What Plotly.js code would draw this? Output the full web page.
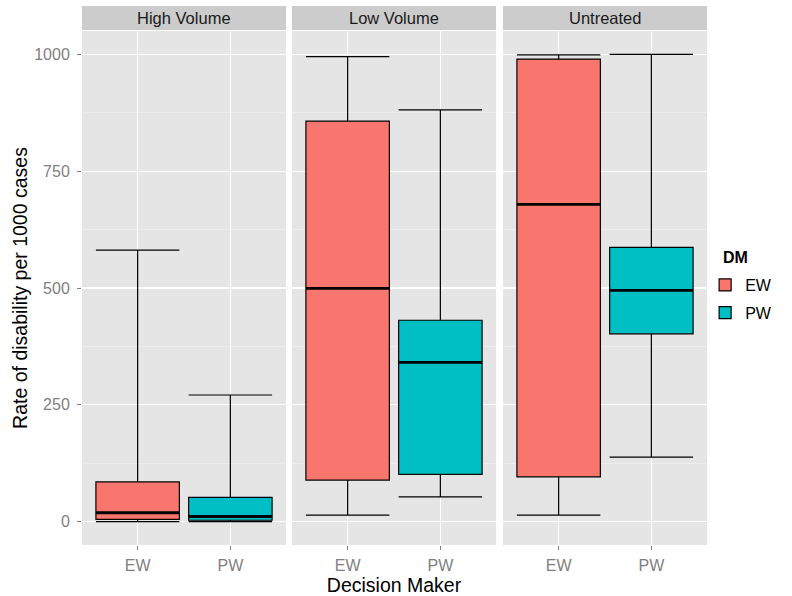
<!DOCTYPE html>
<html>
<head>
<meta charset="utf-8">
<script src="https://cdn.plot.ly/plotly-3.0.1.min.js"></script>
<style>
  html, body { margin: 0; padding: 0; background: #ffffff; }
  #chart { width: 792px; height: 596px; }
</style>
</head>
<body>
<div id="chart"></div>
<script>
// Facet panels and decision makers
const panels = ['High Volume', 'Low Volume', 'Untreated'];
const makers = ['EW', 'PW'];

// Box statistics per panel (rate per 1000 cases), EW decision maker
const ewLower  = [0, 14, 14];
const ewQ1     = [5, 89, 96];
const ewMedian = [19, 499, 679];
const ewQ3     = [85, 857, 990];
const ewUpper  = [581, 995, 999];

// Box statistics per panel, PW decision maker
const pwLower  = [0, 53, 138];
const pwQ1     = [3, 101, 402];
const pwMedian = [11, 341, 495];
const pwQ3     = [52, 431, 587];
const pwUpper  = [271, 881, 1000];

// Y axis ticks
const yTicks = [0, 250, 500, 750, 1000];
const yMinor = [125, 375, 625, 875];

const fills = { EW: '#F8766D', PW: '#00BFC4' };
const BOX_W = 0.9;
const FONT = 'Liberation Sans, Arial, Helvetica, sans-serif';
const PLOT_H = 514;

const stats = {
  EW: { lo: ewLower, q1: ewQ1, med: ewMedian, q3: ewQ3, hi: ewUpper },
  PW: { lo: pwLower, q1: pwQ1, med: pwMedian, q3: pwQ3, hi: pwUpper }
};

const axisIds = ['x', 'x2', 'x3'];
const domains = [[0, 0.3264], [0.336, 0.6624], [0.6736, 1]];

const traces = [];
panels.forEach((p, i) => {
  makers.forEach((m, j) => {
    const s = stats[m];
    traces.push({
      type: 'box',
      name: m,
      legendgroup: m,
      showlegend: i === 0,
      x: [j],
      q1: [s.q1[i]],
      median: [s.med[i]],
      q3: [s.q3[i]],
      lowerfence: [s.lo[i]],
      upperfence: [s.hi[i]],
      width: BOX_W,
      whiskerwidth: 1,
      fillcolor: fills[m],
      line: { color: '#000000', width: 1.2 },
      xaxis: axisIds[i],
      yaxis: 'y',
      hoverinfo: 'skip'
    });
  });
  // heavier median bars on top of the boxes
  const mx = [], my = [];
  makers.forEach((m, j) => {
    const v = stats[m].med[i];
    mx.push(j - BOX_W / 2, j + BOX_W / 2, null);
    my.push(v, v, null);
  });
  traces.push({
    type: 'scatter', mode: 'lines', x: mx, y: my,
    line: { color: '#000000', width: 2.8 },
    xaxis: axisIds[i], yaxis: 'y',
    showlegend: false, hoverinfo: 'skip'
  });
});

const layout = {
  width: 792, height: 596,
  margin: { l: 82, r: 85, t: 31, b: 51, autoexpand: false },
  paper_bgcolor: '#ffffff',
  plot_bgcolor: '#E5E5E5',
  font: { family: FONT, size: 16, color: '#7F7F7F' },
  boxmode: 'overlay',
  showlegend: true,
  legend: {
    font: { family: FONT, size: 16, color: '#000000' },
    x: 0.997, xanchor: 'left', y: 1 - (268 - 31) / PLOT_H, yanchor: 'top',
    bgcolor: 'rgba(0,0,0,0)', tracegroupgap: 4
  },
  yaxis: {
    range: [-50, 1050],
    tickmode: 'array', tickvals: yTicks,
    showgrid: true, gridcolor: '#ffffff', gridwidth: 1.2,
    minor: { tickmode: 'array', tickvals: yMinor, showgrid: true, gridcolor: '#F2F2F2', gridwidth: 0.6 },
    ticks: 'outside', ticklen: 4, tickcolor: '#7F7F7F', tickwidth: 1,
    ticklabelstandoff: 4,
    zeroline: false, showline: false,
    tickfont: { family: FONT, size: 16, color: '#7F7F7F' },
    title: { text: 'Rate of disability per 1000 cases', font: { family: FONT, size: 19.5, color: '#000000' }, standoff: 1 },
    anchor: 'x'
  },
  shapes: [],
  annotations: [{
    text: '<b>DM</b>', xref: 'paper', yref: 'paper',
    x: (721 - 82) / 625, y: 1 - (257 - 31) / PLOT_H,
    xanchor: 'left', yanchor: 'middle', showarrow: false,
    font: { family: FONT, size: 16, color: '#000000' }
  }]
};

panels.forEach((p, i) => {
  const key = i === 0 ? 'xaxis' : 'xaxis' + (i + 1);
  layout[key] = {
    domain: domains[i],
    anchor: 'y',
    range: [-0.6, 1.6],
    tickmode: 'array', tickvals: [0, 1], ticktext: makers,
    showgrid: true, gridcolor: '#ffffff', gridwidth: 1.2,
    ticks: 'outside', ticklen: 4, tickcolor: '#7F7F7F', tickwidth: 1,
    ticklabelstandoff: 2,
    zeroline: false, showline: false,
    tickfont: { family: FONT, size: 16, color: '#7F7F7F' }
  };
  const dref = axisIds[i] + ' domain';
  layout.shapes.push({
    type: 'rect', xref: dref, yref: 'paper',
    x0: 0, x1: 1, y0: 1 + 1 / PLOT_H, y1: 1 + 25 / PLOT_H,
    fillcolor: '#CCCCCC', line: { width: 0 }, layer: 'below'
  });
  layout.annotations.push({
    text: p, xref: dref, yref: 'paper', x: 0.5, y: 1 + 13 / PLOT_H,
    xanchor: 'center', yanchor: 'middle', showarrow: false,
    font: { family: FONT, size: 16.5, color: '#1A1A1A' }
  });
});

layout.xaxis2.title = { text: 'Decision Maker', font: { family: FONT, size: 19.5, color: '#000000' }, standoff: 7 };

Plotly.newPlot('chart', traces, layout, { displayModeBar: false, staticPlot: true });
</script>
</body>
</html>
